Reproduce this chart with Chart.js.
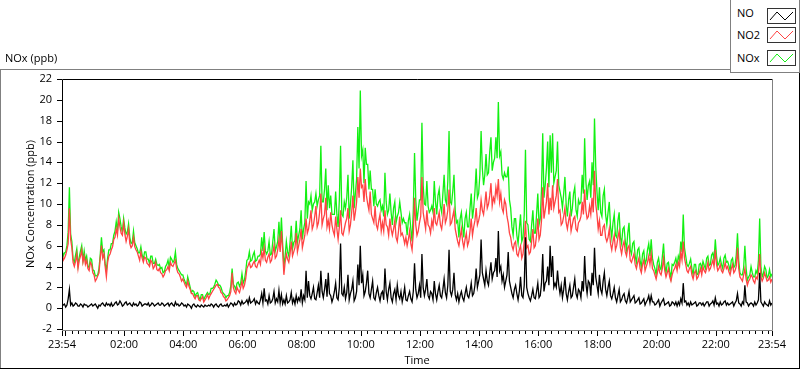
<!DOCTYPE html>
<html><head><meta charset="utf-8">
<script src="https://cdn.jsdelivr.net/npm/chart.js@4.4.1/dist/chart.umd.min.js"></script>
<style>
html,body{margin:0;padding:0;background:#fff;}
#wrap{position:relative;width:800px;height:369px;overflow:hidden;background:#fff;font-family:"Open Sans",sans-serif;font-size:11px;color:#000;}
#c{position:absolute;left:0;top:0;}
.ln{position:absolute;}
#unit{position:absolute;left:5px;top:51px;line-height:14px;white-space:nowrap;}
#legend{position:absolute;left:730px;top:-1px;width:68px;height:72px;border:1px solid #808080;background:#fff;}
#legend span{position:absolute;left:6px;line-height:16px;white-space:nowrap;}
#legend svg{position:absolute;left:36px;}
</style></head>
<body>
<div id="wrap">
  <canvas id="c" width="800" height="369"></canvas>
  <div class="ln" style="left:0;top:69px;width:730px;height:1px;background:#808080"></div>
  <div class="ln" style="left:0;top:69px;width:1px;height:300px;background:#808080"></div>
  <div class="ln" style="left:0;top:368px;width:800px;height:1px;background:#000"></div>
  <div class="ln" style="left:799px;top:72px;width:1px;height:297px;background:#000"></div>
  <div id="unit">NOx (ppb)</div>
  <div id="legend"></div>
</div>
<script>
// ---- data (2.5-minute samples starting 23:54) ----
const sampleStepMin = 2.5;
const seriesNames = ['NO', 'NO2', 'NOx'];
const seriesColors = ['#000000', '#ff4343', '#12f012'];

const no = [
0.2,0.3,0.4,0.1,0.3,0.9,1.8,0.3,0.5,0.2,0.3,0.5,0.4,0.2,0.2,0.4,0.3,0.1,0.4,0.3,
0.3,0.1,0.2,0.3,0.4,0.2,0.3,0.4,0.2,0.0,0.3,0.2,0.4,0.5,0.3,0.2,0.5,0.3,0.4,0.2,
0.5,0.2,0.3,0.5,0.6,0.3,0.4,0.7,0.5,0.2,0.3,0.5,0.6,0.3,0.4,0.5,0.3,0.2,0.5,0.3,
0.4,0.2,0.3,0.6,0.5,0.2,0.3,0.4,0.4,0.3,0.5,0.2,0.3,0.5,0.4,0.2,0.3,0.4,0.5,0.3,
0.3,0.5,0.4,0.2,0.3,0.4,0.5,0.2,0.4,0.5,0.3,0.2,0.6,0.3,0.4,0.2,0.3,0.5,0.4,0.2,
0.3,0.1,0.4,0.3,0.2,0.0,0.3,0.4,0.2,0.1,0.3,0.2,0.1,0.3,0.2,0.1,0.3,0.2,0.2,0.3,
0.2,0.4,0.3,0.1,0.3,0.4,0.2,0.1,0.3,0.4,0.2,0.2,0.3,0.2,0.4,0.1,0.3,0.5,0.4,0.2,
0.5,0.3,0.4,0.7,0.6,0.3,0.7,0.4,0.5,0.6,0.8,0.4,1.0,0.5,0.6,0.7,0.9,0.4,0.7,0.5,
0.4,0.8,1.4,0.5,1.9,0.7,0.8,0.4,1.2,0.5,0.6,0.9,1.6,0.5,0.9,0.6,1.7,0.5,1.3,0.4,
0.8,0.4,1.2,0.5,0.6,0.8,1.5,0.5,0.9,0.4,1.2,0.6,1.0,0.7,1.8,0.5,1.2,0.8,3.6,1.0,
2.6,1.2,0.9,1.4,2.0,0.9,0.8,1.5,2.2,1.0,3.6,1.6,1.0,1.8,2.8,1.1,3.4,1.4,1.2,0.6,
1.0,1.6,2.4,1.0,0.8,2.0,6.2,1.4,1.2,2.0,0.9,1.5,3.2,0.8,1.4,1.8,2.6,0.7,1.0,1.6,
4.2,2.2,6.0,2.4,3.2,1.2,1.6,2.4,3.6,1.4,1.0,1.8,2.6,1.0,0.8,1.5,2.0,1.2,0.7,1.4,
1.6,0.8,3.8,1.6,0.8,1.8,2.4,1.0,0.6,1.4,1.8,0.8,2.2,1.2,0.9,1.6,0.6,1.2,2.0,0.8,
0.7,1.2,1.6,0.9,0.6,1.6,4.3,1.8,1.0,1.4,2.2,1.0,5.2,2.0,1.2,1.8,2.8,1.2,0.9,1.6,
1.4,0.8,2.6,1.4,0.8,1.6,2.2,1.2,1.0,1.8,2.8,1.5,1.0,2.2,5.6,1.6,1.2,1.8,3.4,1.3,
0.8,1.4,0.6,1.2,1.6,1.0,0.7,1.4,2.0,1.2,1.0,1.6,2.4,1.2,1.4,2.2,3.8,2.0,2.6,3.2,
6.6,3.4,2.8,2.2,3.6,2.6,2.2,3.4,4.4,2.8,3.4,3.6,4.8,3.0,7.4,3.6,4.0,2.6,3.2,2.0,
2.6,3.2,5.4,2.6,2.0,1.4,1.0,1.8,2.2,1.4,0.8,1.6,3.0,1.2,1.0,2.2,6.8,2.0,1.4,1.0,
0.7,1.2,1.8,1.0,0.9,1.6,2.4,1.0,1.2,2.4,5.2,1.6,2.4,2.6,4.0,2.2,6.0,3.0,5.0,2.0,
2.4,2.0,3.6,2.2,1.4,2.2,1.0,1.8,3.0,1.4,0.8,1.6,2.2,1.0,1.2,2.0,2.8,1.4,1.0,1.8,
1.6,1.0,2.6,1.6,5.0,2.4,1.4,2.6,2.4,1.2,3.4,2.2,5.8,3.0,2.2,1.4,3.2,1.8,1.4,2.6,
3.4,1.8,1.2,2.0,2.6,1.2,0.9,1.4,2.0,1.0,0.6,1.2,1.8,0.6,0.8,1.2,1.4,0.7,0.5,1.0,
1.6,0.6,0.8,1.0,1.2,0.5,0.6,0.8,1.0,0.4,0.5,0.7,0.9,0.3,0.6,0.8,1.2,0.5,1.2,0.6,
0.6,0.3,0.4,0.6,0.8,0.2,0.5,0.7,0.9,0.3,0.4,0.5,0.6,0.2,0.3,0.6,0.5,0.3,0.6,0.2,
0.6,0.3,0.9,0.5,2.4,0.6,0.7,0.3,0.5,0.2,0.6,0.3,0.4,0.5,0.6,0.2,0.3,0.5,0.5,0.3,
0.5,0.2,0.4,0.6,0.6,0.2,0.4,0.5,0.7,0.3,1.0,0.4,0.5,0.2,0.6,0.3,0.4,0.6,0.7,0.3,
0.5,0.3,0.4,0.5,0.6,0.2,0.5,0.7,1.4,0.5,0.4,0.2,0.6,0.4,2.2,0.6,0.5,0.2,0.4,0.5,
0.4,0.2,0.6,0.3,0.5,0.8,3.4,0.6,0.4,0.2,0.6,0.4,0.3,0.2,0.7,0.3,0.5
];

const no2 = [
5.4,4.6,4.8,5.1,5.6,6.2,9.6,6.6,5.8,4.4,4.0,4.5,5.2,3.8,4.6,5.0,5.6,4.4,5.0,4.2,
4.6,3.8,3.6,4.4,4.2,3.4,3.2,2.6,2.8,3.1,3.4,4.8,6.0,4.8,5.2,4.0,3.0,4.4,5.0,5.2,
5.6,5.9,6.6,6.8,7.6,7.0,8.6,7.8,7.2,7.0,8.2,7.1,6.4,6.9,7.6,6.2,5.8,6.0,6.8,5.9,
5.6,5.4,5.0,4.6,5.4,4.8,4.4,4.9,4.8,4.3,4.2,4.0,4.6,4.4,3.8,4.0,4.4,3.7,3.6,3.8,
3.4,3.3,3.0,3.2,3.6,3.7,4.0,3.6,4.4,4.1,4.0,4.3,4.6,3.8,3.4,3.3,3.0,2.6,2.8,2.5,
2.2,2.0,2.6,2.1,1.8,1.4,1.4,1.1,0.9,1.2,1.2,0.8,0.7,0.9,1.1,0.6,0.8,1.0,1.3,0.9,
1.2,1.4,1.6,1.8,2.0,2.2,2.3,2.0,1.9,1.5,1.4,1.1,1.0,0.7,0.8,1.0,1.2,1.6,3.4,2.0,
1.6,1.4,2.0,1.7,1.5,2.0,2.6,1.9,2.2,2.8,3.8,4.1,4.4,3.9,4.0,4.3,4.5,4.0,3.9,4.3,
4.6,4.2,5.4,4.8,5.8,4.6,4.4,4.9,5.2,4.4,4.6,5.3,6.0,4.8,5.0,5.6,6.6,5.4,7.4,5.6,
3.2,4.4,5.2,4.7,4.4,5.2,6.4,5.0,5.4,5.8,7.2,5.4,6.0,6.6,7.6,5.8,6.4,7.0,8.6,7.2,
7.6,8.4,9.4,7.6,8.0,8.8,9.8,7.8,8.2,9.2,11.0,8.0,8.6,9.0,10.6,7.8,8.4,7.6,9.2,8.0,
7.4,7.0,8.8,7.6,6.6,7.8,9.4,7.2,7.0,7.6,8.2,8.6,9.6,7.4,8.0,9.2,10.8,8.4,9.2,10.2,
12.6,10.6,13.4,11.6,11.8,10.2,12.4,10.8,10.0,9.4,11.2,9.0,8.6,8.2,9.8,8.0,7.6,8.4,9.0,7.4,
8.2,7.4,9.4,8.0,7.8,7.0,8.6,7.6,7.0,7.6,8.4,6.8,6.4,7.4,8.8,7.0,7.2,6.8,6.2,6.8,
6.0,6.6,7.4,6.2,5.6,7.2,10.6,8.0,7.0,7.4,8.2,8.8,12.6,9.2,8.4,7.6,9.4,8.0,7.8,7.2,
8.4,7.8,9.6,8.2,8.0,8.6,9.2,8.0,7.6,8.6,10.0,8.2,8.6,9.4,11.4,8.0,8.2,8.8,9.4,7.6,
7.0,6.4,6.0,6.8,7.6,6.4,5.8,6.6,7.2,6.0,6.4,7.4,8.6,7.0,7.8,8.4,9.6,8.0,8.4,9.0,
10.4,9.4,9.0,10.0,11.2,9.6,10.0,10.8,12.0,9.8,10.6,10.2,11.6,10.8,12.4,10.2,11.0,9.6,9.2,10.4,
10.0,8.8,8.2,7.2,6.8,6.0,5.6,6.2,6.4,5.2,5.0,5.6,6.0,4.8,5.2,6.4,8.4,5.8,6.0,5.2,
5.4,6.4,7.6,5.8,6.0,7.0,8.6,6.6,7.0,8.4,11.6,8.6,9.4,10.2,12.0,9.0,10.6,9.4,11.8,9.6,
10.2,10.8,12.4,9.2,9.4,8.0,8.2,8.8,9.6,8.2,7.6,8.4,9.0,7.4,8.0,8.6,8.8,7.6,7.4,8.2,
8.4,8.8,10.2,9.0,11.4,9.4,8.6,8.8,9.8,9.0,10.6,9.2,13.2,10.0,9.0,7.6,8.4,7.0,7.0,7.8,
8.0,6.8,6.4,6.8,7.6,6.2,5.6,6.4,7.0,5.6,6.0,6.8,7.4,5.8,5.2,6.0,6.4,5.4,5.0,5.8,
6.0,4.6,4.4,4.8,5.2,4.2,3.8,4.4,4.8,3.8,3.4,4.2,4.6,3.6,4.0,4.4,5.0,4.2,5.2,3.8,
3.6,3.2,2.8,3.4,4.0,3.4,3.2,3.8,4.8,3.6,3.0,3.4,3.8,3.0,2.6,3.2,3.6,3.8,4.2,3.6,
4.4,4.0,5.4,4.6,6.4,4.8,4.2,3.6,3.4,3.8,4.0,3.2,2.8,3.4,3.6,2.8,3.0,3.4,3.8,3.2,
4.0,3.6,3.4,3.8,4.4,3.6,3.8,4.2,4.6,4.0,5.6,4.2,3.6,3.8,4.2,3.6,3.4,3.8,4.4,3.8,
4.0,3.5,3.2,3.8,4.2,3.4,3.6,4.0,5.8,3.8,3.0,2.8,2.6,3.2,3.8,2.8,2.2,2.6,2.8,3.2,
3.0,2.6,2.4,3.0,2.8,3.4,5.2,3.0,2.6,2.9,3.4,3.0,2.6,2.7,3.0,2.5,2.8
];

const nox = [
5.7,5.0,5.3,5.4,6.0,7.3,11.6,7.1,6.4,4.7,4.4,5.1,5.7,4.1,4.9,5.5,6.0,4.6,5.5,4.6,
5.0,4.0,3.9,4.8,4.7,3.7,3.6,3.1,3.1,3.2,3.8,5.1,6.8,5.4,5.6,4.3,3.6,4.8,5.6,5.6,
6.2,6.2,7.0,7.4,8.3,7.4,9.2,8.6,7.8,7.3,8.6,7.7,7.1,7.3,8.1,6.8,6.2,6.3,7.4,6.3,
6.0,5.7,5.3,5.3,5.9,5.1,4.7,5.4,5.4,4.7,4.7,4.3,5.0,5.0,4.3,4.3,4.7,4.2,4.1,4.2,
3.8,3.9,3.4,3.5,4.0,4.2,4.6,3.9,4.9,4.7,4.4,4.6,5.4,4.2,3.8,3.6,3.4,3.2,3.2,2.8,
2.5,2.2,3.0,2.5,2.0,1.5,1.7,1.6,1.1,1.4,1.5,1.1,0.8,1.3,1.3,0.8,1.1,1.3,1.5,1.3,
1.4,1.9,1.9,2.0,2.3,2.7,2.5,2.2,2.2,2.0,1.6,1.4,1.3,1.0,1.2,1.2,1.5,2.2,3.8,2.3,
2.1,1.8,2.4,2.5,2.1,2.4,3.3,2.4,2.7,3.5,4.6,4.7,5.4,4.5,4.6,5.1,5.4,4.5,4.6,5.0,
5.0,5.2,6.8,5.5,7.3,5.5,5.2,5.5,6.4,5.1,5.2,6.4,7.6,5.5,5.9,6.4,8.3,6.1,8.7,6.2,
4.0,5.0,6.4,5.4,5.0,6.3,7.9,5.7,6.3,6.5,8.4,6.3,7.0,7.6,9.4,6.6,7.6,8.2,12.2,8.6,
10.2,10.0,10.8,9.4,10.0,10.2,11.0,9.8,10.4,10.8,15.6,10.2,10.2,11.4,13.4,9.4,11.8,9.6,10.8,9.0,
9.0,9.0,11.2,9.0,7.8,10.4,15.6,9.0,8.8,10.2,9.6,10.6,12.8,8.6,10.0,11.6,14.2,9.6,11.0,12.4,
17.4,13.4,20.9,14.6,15.2,12.0,15.4,13.8,13.8,11.4,13.2,11.4,11.4,9.8,11.4,10.0,9.8,10.2,10.4,9.4,
9.8,8.8,13.0,10.2,9.0,9.4,11.0,9.2,8.0,9.6,10.2,8.2,8.8,9.2,10.2,9.2,8.2,8.6,8.2,8.2,
7.0,8.4,9.0,7.6,6.4,9.4,14.9,10.4,8.4,9.4,10.4,10.4,17.8,11.8,10.0,9.9,12.2,9.8,9.2,9.4,
9.8,9.2,12.2,10.2,9.0,10.8,11.4,9.8,9.2,11.0,12.8,10.4,10.0,12.2,17.0,10.2,10.0,11.2,12.8,9.4,
8.2,8.4,6.8,8.6,9.2,7.8,6.8,8.6,9.2,7.8,7.8,9.6,11.0,8.6,9.6,11.2,13.4,10.6,11.0,12.8,
17.0,13.4,11.8,12.8,14.8,12.8,13.0,15.0,16.4,13.2,14.0,14.4,16.4,14.4,19.8,14.6,15.0,12.8,12.4,13.0,
12.6,12.6,13.6,10.4,9.6,7.8,7.0,8.6,8.6,7.0,6.2,7.6,9.0,6.4,6.8,9.0,15.2,8.2,8.0,6.6,
6.4,8.0,9.4,7.2,7.2,9.0,11.0,8.0,8.6,11.4,16.8,10.6,11.8,13.4,16.0,11.6,16.6,13.0,16.8,12.0,
12.6,13.2,16.0,11.8,11.2,10.6,9.6,11.0,12.6,10.0,8.8,10.4,11.2,8.8,9.6,11.0,11.6,9.4,8.8,10.4,
10.0,10.2,12.8,11.0,16.3,12.2,10.4,11.8,12.2,10.6,14.0,11.8,18.2,13.6,11.2,9.4,11.6,9.2,8.8,10.8,
11.4,9.0,8.0,9.2,10.2,7.8,6.8,8.2,9.0,7.0,6.8,8.4,9.2,6.8,6.2,7.6,7.8,6.4,5.6,7.2,
8.2,5.6,5.2,6.2,6.4,5.0,4.4,5.6,5.8,4.6,3.9,5.2,5.5,4.2,4.6,5.6,6.2,5.0,6.6,4.8,
4.2,3.8,3.2,4.4,4.8,3.9,3.7,4.9,6.2,4.2,3.4,4.3,4.4,3.5,2.9,4.2,4.1,4.4,4.8,4.1,
5.0,4.6,6.4,5.4,9.0,5.8,5.0,4.2,4.0,4.3,4.7,3.8,3.2,4.2,4.2,3.2,3.3,4.2,4.3,3.8,
4.5,4.1,3.8,4.8,5.0,4.1,4.2,5.1,5.3,4.6,6.6,5.0,4.1,4.3,4.8,4.2,3.8,4.8,5.1,4.4,
4.5,4.1,3.6,4.6,4.8,3.9,4.1,5.1,7.2,4.6,3.4,3.2,3.2,3.9,6.0,3.8,2.7,3.0,3.2,4.0,
3.4,3.0,3.0,3.6,3.3,4.6,8.6,4.0,3.0,3.3,4.0,3.7,2.9,3.1,3.7,3.0,3.3
];

// x tick labels (minutes after 23:54)
const tickMinutes = [0,126,246,366,486,606,726,846,966,1086,1206,1326,1440];
const tickLabels = ['23:54','02:00','04:00','06:00','08:00','10:00','12:00','14:00','16:00','18:00','20:00','22:00','23:54'];
const midnightMin = 6;      // 00:00
const majorStepMin = 120;
const minorPerMajor = 9;

// ---- legend (HTML) ----
const legend = document.getElementById('legend');
const legTextTop = [5, 27, 50];
const legBoxTop = [8, 27, 50];
seriesNames.forEach((n, k) => {
  const s = document.createElement('span');
  s.textContent = n;
  s.style.top = legTextTop[k] + 'px';
  legend.appendChild(s);
  const svgNS = 'http://www.w3.org/2000/svg';
  const svg = document.createElementNS(svgNS, 'svg');
  svg.setAttribute('width', '29'); svg.setAttribute('height', '16');
  svg.style.top = legBoxTop[k] + 'px';
  svg.innerHTML = '<rect x="0.5" y="0.5" width="28" height="15" fill="#fff" stroke="#333" stroke-width="1"/>' +
    '<polyline points="3,12 10,4 18,12 26,4" fill="none" stroke="' + seriesColors[k] + '" stroke-width="1"/>';
  legend.appendChild(svg);
});

// ---- chart ----
const seriesData = [no, no2, nox];
const FONT = {family: 'Open Sans', size: 11};
Chart.defaults.font.family = 'Open Sans';
Chart.defaults.font.size = 11;
Chart.defaults.color = '#000';

const framePlugin = {
  id: 'frame',
  afterDraw(chart) {
    const {ctx, chartArea: a, scales: {x, y}} = chart;
    ctx.save();
    ctx.lineWidth = 1;
    ctx.strokeStyle = '#808080';
    ctx.beginPath();
    ctx.moveTo(a.left, a.bottom + 1.5); ctx.lineTo(a.right + 0.5, a.bottom + 1.5);
    ctx.lineTo(a.right + 0.5, a.top);
    ctx.stroke();
    ctx.strokeStyle = '#000';
    ctx.beginPath();
    ctx.moveTo(a.left + 0.5, a.bottom + 1); ctx.lineTo(a.left + 0.5, a.top + 0.5);
    ctx.lineTo(a.right, a.top + 0.5);
    ctx.stroke();
    ctx.beginPath();
    y.ticks.forEach(t => {
      const py = Math.round(y.getPixelForValue(t.value)) + 0.5;
      ctx.moveTo(a.left - 5, py); ctx.lineTo(a.left, py);
    });
    const y0 = a.bottom + 2;
    const drawTick = (m, len) => {
      const px = Math.round(x.getPixelForValue(m)) + 0.5;
      ctx.moveTo(px, y0); ctx.lineTo(px, y0 + len);
    };
    drawTick(0, 5); drawTick(1440, 5);
    for (let m = midnightMin, k = 0; m <= 1440.01; m += majorStepMin / minorPerMajor, k++) {
      drawTick(m, (k % minorPerMajor === 0) ? 5 : 3);
    }
    ctx.stroke();
    ctx.restore();
  }
};

new Chart(document.getElementById('c'), {
  type: 'line',
  data: {
    datasets: seriesNames.map((n, k) => ({
      label: n,
      data: seriesData[k].map((v, i) => ({x: i * sampleStepMin, y: v})),
      borderColor: seriesColors[k],
      borderWidth: 1.3,
      pointRadius: 0,
      tension: 0,
      fill: false
    }))
  },
  options: {
    responsive: false,
    animation: false,
    devicePixelRatio: 1,
    layout: {padding: {top: 79, right: 28, left: 0, bottom: 0}},
    plugins: {legend: {display: false}, tooltip: {enabled: false}},
    scales: {
      x: {
        type: 'linear', min: 0, max: 1440,
        grid: {display: false, drawTicks: false},
        border: {display: false},
        afterBuildTicks: s => { s.ticks = tickMinutes.map(v => ({value: v})); },
        afterFit: s => { s.height = 40; },
        ticks: {autoSkip: false, maxRotation: 0, padding: 9, color: '#000', font: FONT,
                callback: (v, i) => tickLabels[i]},
        title: {display: true, text: 'Time', color: '#000', font: FONT, padding: {top: 0, bottom: 2}}
      },
      y: {
        min: -2, max: 22,
        grid: {display: false, drawTicks: false},
        border: {display: false},
        afterFit: s => { s.width = 62; },
        ticks: {stepSize: 2, padding: 10, color: '#000', font: FONT},
        title: {display: true, text: 'NOx Concentration (ppb)', color: '#000', font: FONT, padding: {top: 24, bottom: 0}}
      }
    }
  },
  plugins: [framePlugin]
});
</script>
</body></html>
